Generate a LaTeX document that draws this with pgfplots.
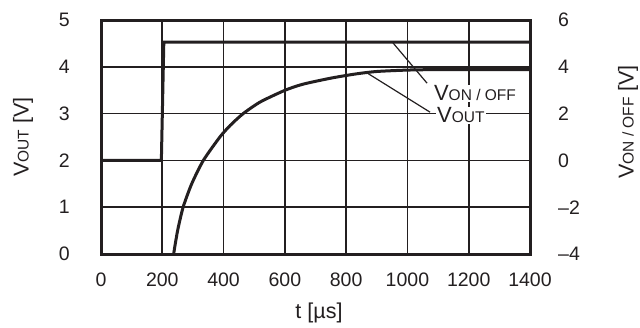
\documentclass[border=0pt]{standalone}
\usepackage{pgfplots}
\pgfplotsset{compat=1.18}
\usepackage{fontspec}
\setmainfont{Liberation Sans}
\definecolor{ink}{HTML}{231F20}

\newcommand{\lbl}{\fontsize{21.5}{24}\selectfont}
\newcommand{\sub}{\fontsize{15.5}{18}\selectfont}

\begin{document}
\begin{tikzpicture}[x=1pt,y=1pt]
\useasboundingbox (-101,-73) rectangle (539,254);
\pgfplotsset{
  every axis/.append style={
    width=429pt, height=234pt, scale only axis,
    xmin=0, xmax=1400,
    major tick length=0pt,
    /pgf/number format/assume math mode=true,
    /pgf/number format/1000 sep={},
    tick label style={font=\fontsize{19.5}{22}\selectfont, text=ink},
    axis line style={ink, line width=3pt},
  }
}
\begin{axis}[
  ymin=0, ymax=5,
  xtick={0,200,...,1400}, ytick={0,1,...,5},
  grid=major, grid style={ink, line width=1.6pt},
  yticklabel style={anchor=east, inner sep=0pt, xshift=-31pt},
  xticklabel style={anchor=north, inner sep=0pt, yshift=-19pt},
]
% V_OUT
\addplot[ink, line width=3pt, smooth, tension=0.4] coordinates {
  (237,0)(250,0.5)(268,1.0)(296,1.5)(334,2.0)(388,2.5)(422,2.75)(464,3.0)
  (520,3.25)(601,3.5)(660,3.63)(752,3.76)(834,3.85)(900,3.9)(1000,3.93)
  (1100,3.94)(1400,3.94)
};
% leader lines
\draw[ink, line width=1.2pt] (axis cs:953,4.51) -- (axis cs:1064,3.65);
\draw[ink, line width=1.2pt] (axis cs:868,3.87) -- (axis cs:1074,3.03);
\node[anchor=base west, fill=white, inner sep=1pt, text=ink] at (axis cs:1083,3.276)
  {\fontsize{22}{24}\selectfont V\sub ON / OFF};
\node[anchor=base west, fill=white, inner sep=1pt, text=ink] at (axis cs:1093,2.80)
  {\fontsize{22}{24}\selectfont V\sub OUT};
\end{axis}
\begin{axis}[
  ymin=-4, ymax=6,
  ytick={-4,-2,...,6}, yticklabels={--4,--2,0,2,4,6},
  axis y line*=right, axis x line=none,
  yticklabel style={anchor=west, inner sep=0pt, xshift=28pt},
]
% V_ON/OFF
\addplot[ink, line width=3pt] coordinates {(0,0)(197,0)(205,5.05)(1400,5.05)};
\end{axis}
\node[rotate=90, text=ink] at (-78,117) {\lbl V\sub OUT\lbl{} [V]};
\node[rotate=90, text=ink] at (527,132) {\lbl V\sub ON / OFF\lbl{} [V]};
\node[text=ink] at (218,-59) {\lbl t [µs]};
\end{tikzpicture}
\end{document}
